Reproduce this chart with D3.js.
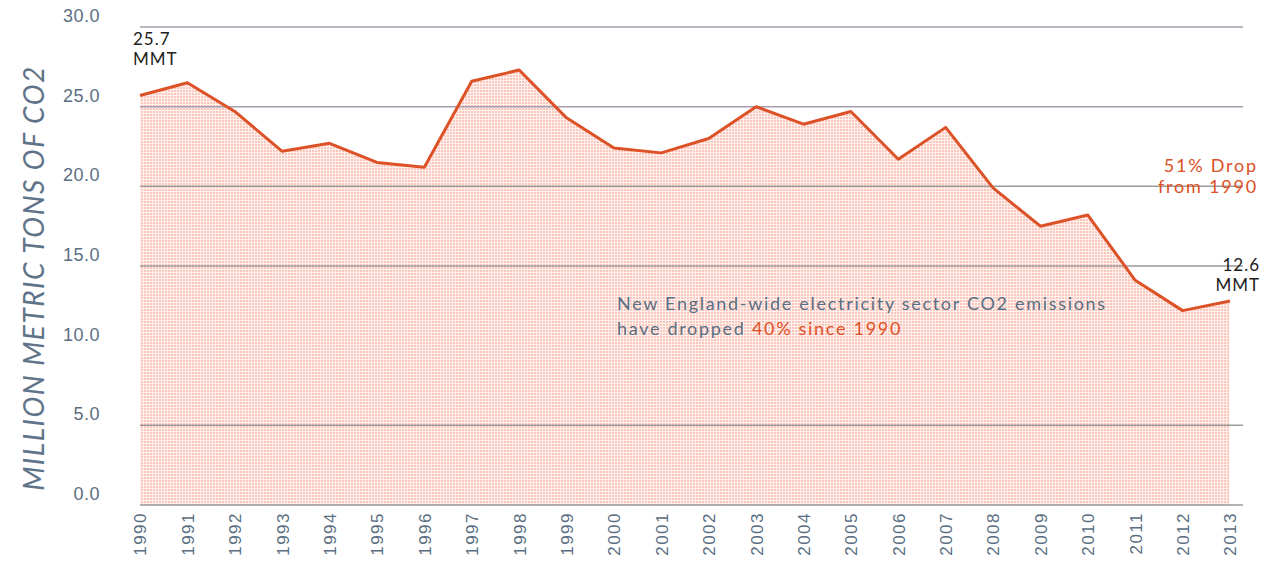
<!DOCTYPE html>
<html>
<head>
<meta charset="utf-8">
<script src="https://cdn.jsdelivr.net/npm/d3@7"></script>
<style>
  body { margin: 0; background: #fff; }
  svg { font-family: "Lato", "Open Sans", sans-serif; }
</style>
</head>
<body>
<div id="vis"></div>
<script>
// data
var years = [1990, 1991, 1992, 1993, 1994, 1995, 1996, 1997, 1998, 1999, 2000, 2001,
             2002, 2003, 2004, 2005, 2006, 2007, 2008, 2009, 2010, 2011, 2012, 2013];
var emissions = [25.7, 26.5, 24.7, 22.2, 22.7, 21.5, 21.2, 26.6, 27.3, 24.3, 22.4, 22.1,
                 23.0, 25.0, 23.9, 24.7, 21.7, 23.7, 19.9, 17.5, 18.2, 14.1, 12.2, 12.8];
var yTicks = [0, 5, 10, 15, 20, 25, 30];
var gridTicks = [0, 5, 15, 20, 25, 30];

var width = 1267, height = 565;
var margin = {top: 27, right: 37, bottom: 60, left: 140};

var svg = d3.select('#vis')
    .append('svg')
    .attr('width', width)
    .attr('height', height);

var x = d3.scalePoint().domain(years).range([margin.left, width - margin.right]);
var y = d3.scaleLinear().domain([0, 30]).range([height - margin.bottom, margin.top]);

// dotted pink fill pattern
var defs = svg.append('defs');
var pat = defs.append('pattern')
    .attr('id', 'dots')
    .attr('width', 3)
    .attr('height', 3)
    .attr('patternUnits', 'userSpaceOnUse');
pat.append('rect').attr('width', 3).attr('height', 3).attr('fill', '#fff1ee');
pat.append('rect').attr('width', 2).attr('height', 2).attr('fill', '#fbc6bb');

var data = years.map(function(d, i) { return {k: d, v: emissions[i]}; });

// area
var area = d3.area()
    .x(function(d) { return x(d.k); })
    .y0(y(0))
    .y1(function(d) { return y(d.v); });

svg.append('path')
    .datum(data)
    .attr('d', area)
    .attr('fill', 'url(#dots)');

// gridlines
svg.selectAll('.grid')
    .data(gridTicks)
    .enter().append('line')
    .attr('class', 'grid')
    .attr('x1', margin.left)
    .attr('x2', width - margin.right + 13)
    .attr('y1', function(d) { return y(d); })
    .attr('y2', function(d) { return y(d); })
    .attr('stroke', function(d) { return d >= 25 ? '#a59cae' : '#9a9a9a'; })
    .attr('stroke-width', 1.5);

// line
var line = d3.line()
    .x(function(d) { return x(d.k); })
    .y(function(d) { return y(d.v); });

svg.append('path')
    .datum(data)
    .attr('d', line)
    .attr('fill', 'none')
    .attr('stroke', '#dd5127')
    .attr('stroke-width', 3)
    .attr('stroke-linejoin', 'round');

// y axis labels
var yAxis = svg.append('g')
    .attr('transform', 'translate(' + (margin.left - 37) + ',0)')
    .call(d3.axisLeft(y).tickValues(yTicks).tickFormat(d3.format('.1f')).tickSize(0));
yAxis.select('.domain').remove();
yAxis.selectAll('text')
    .attr('fill', '#5a6e82')
    .style('font-size', '18px')
    .style('letter-spacing', '0.5px')
    .attr('dy', '-0.3em');

// x axis labels
var xAxis = svg.append('g')
    .attr('transform', 'translate(0,' + (height - margin.bottom + 7) + ')')
    .call(d3.axisBottom(x).tickSize(0));
xAxis.select('.domain').remove();
xAxis.selectAll('text')
    .attr('fill', '#5a6e82')
    .style('font-size', '17px')
    .style('letter-spacing', '1.5px')
    .style('text-anchor', 'end')
    .attr('transform', 'rotate(-90)')
    .attr('x', 0)
    .attr('y', 0)
    .attr('dx', 0)
    .attr('dy', '0.35em');

// y title
svg.append('text')
    .attr('transform', 'translate(44,' + 278 + ') rotate(-90)')
    .style('text-anchor', 'middle')
    .style('font-size', '28px')
    .style('letter-spacing', '1.5px')
    .style('font-style', 'italic')
    .attr('fill', '#5f7489')
    .text('MILLION METRIC TONS OF CO2');

// annotations
function twoLines(xp, yp, a, b, col, size, anchor, ls) {
    var t = svg.append('text')
        .attr('x', xp).attr('y', yp)
        .attr('fill', col)
        .style('font-size', size)
        .style('letter-spacing', ls)
        .style('text-anchor', anchor);
    t.append('tspan').attr('x', xp).text(a);
    t.append('tspan').attr('x', xp).attr('dy', '1.15em').text(b);
}
twoLines(133, 45, '25.7', 'MMT', '#222', '17px', 'start', '1px');
twoLines(1260, 271, '12.6', 'MMT', '#222', '17px', 'end', '1px');
twoLines(1258, 172, '51% Drop', 'from 1990', '#dd5127', '18px', 'end', '1.8px');

var note = svg.append('text')
    .attr('x', 617).attr('y', 310)
    .attr('fill', '#5a6e82')
    .style('font-size', '18px')
    .style('letter-spacing', '1.7px');
note.append('tspan').attr('x', 617).text('New England-wide electricity sector CO2 emissions');
note.append('tspan').attr('x', 617).attr('dy', '1.4em').text('have dropped ');
note.append('tspan').attr('fill', '#dd5127').text('40% since 1990');
</script>
</body>
</html>
